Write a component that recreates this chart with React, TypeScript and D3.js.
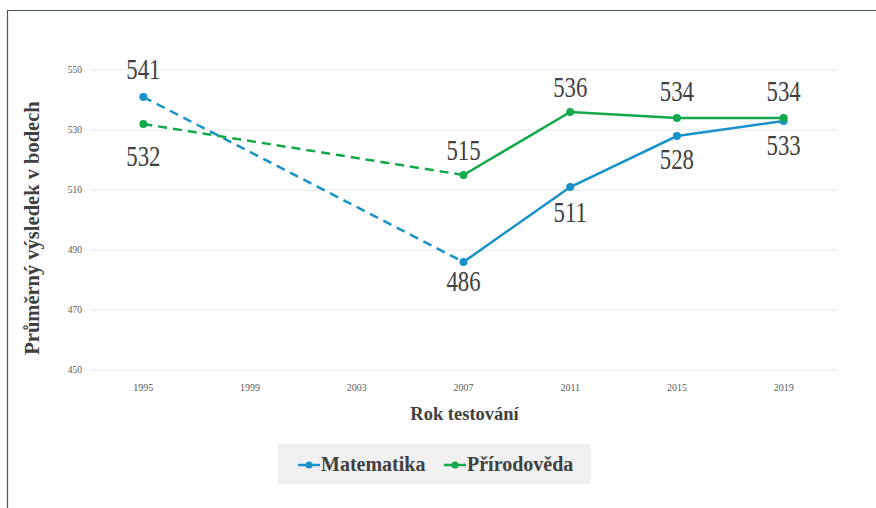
import React from "react";
import * as d3 from "d3";

const years = ["1995", "1999", "2003", "2007", "2011", "2015", "2019"];
const matematika: (number | null)[] = [541, null, null, 486, 511, 528, 533];
const prirodoveda: (number | null)[] = [532, null, null, 515, 536, 534, 534];
const yTicks = [450, 470, 490, 510, 530, 550];
const mathLabelDy = [-18, 0, 0, 29, 35, 33, 34];
const sciLabelDy = [42, 0, 0, -15, -15, -17, -17];

const W = 876;
const H = 508;
const left = 90;
const right = 837;
const top = 70;
const bottom = 370;

const BLUE = "#1892C8";
const GREEN = "#12A84C";
const TEXT = "#404040";
const SERIF = "Liberation Serif";

export default function App() {
  const x = d3.scaleBand<string>().domain(years).range([left, right]);
  const cx = (c: string) => (x(c) as number) + x.bandwidth() / 2;
  const y = d3.scaleLinear().domain([450, 550]).range([bottom, top]);

  const series = [
    { name: "Matematika", values: matematika, color: BLUE, dy: mathLabelDy },
    { name: "Přírodověda", values: prirodoveda, color: GREEN, dy: sciLabelDy },
  ];

  const solid = d3
    .line<number | null>()
    .defined((d, i) => d !== null && i >= 3)
    .x((_, i) => cx(years[i]))
    .y((d) => y(d as number));

  return (
    <svg width={W} height={H} style={{ position: "absolute", left: 0, top: 0 }}>
      <rect x={0} y={0} width={W} height={H} fill="#fff" />
      <line x1={7} y1={10.5} x2={W} y2={10.5} stroke="#44546A" strokeWidth={1.2} />
      <line x1={7.5} y1={10} x2={7.5} y2={H} stroke="#44546A" strokeWidth={1.2} />
      {yTicks.map((t) => (
        <g key={t}>
          <line x1={left} x2={right} y1={y(t)} y2={y(t)} stroke="#E4E7EC" strokeWidth={1} />
          <text x={82} y={y(t)} dy="0.35em" textAnchor="end" fontSize={9.5} fill="#595959" fontFamily={SERIF}>
            {t}
          </text>
        </g>
      ))}
      {years.map((yr) => (
        <text key={yr} x={cx(yr)} y={391} textAnchor="middle" fontSize={10} fill="#595959" fontFamily={SERIF}>
          {yr}
        </text>
      ))}
      <text
        transform={`translate(39,${(top + bottom) / 2 + 8}) rotate(-90)`}
        textAnchor="middle"
        fontSize={20.5}
        fontWeight="bold"
        fill={TEXT}
        fontFamily={SERIF}
      >
        Průměrný výsledek v bodech
      </text>
      <text x={(left + right) / 2 + 1} y={420} textAnchor="middle" fontSize={18.5} fontWeight="bold" fill={TEXT} fontFamily={SERIF}>
        Rok testování
      </text>
      {series.map((s) => {
        const v0 = s.values[0] as number;
        const v3 = s.values[3] as number;
        return (
          <g key={s.name}>
            <line
              x1={cx(years[0])}
              y1={y(v0)}
              x2={cx(years[3])}
              y2={y(v3)}
              stroke={s.color}
              strokeWidth={2.5}
              strokeDasharray="9,6"
            />
            <path d={solid(s.values) || ""} fill="none" stroke={s.color} strokeWidth={2.5} />
            {s.values.map((v, i) =>
              v === null ? null : (
                <g key={i}>
                  <circle cx={cx(years[i])} cy={y(v)} r={4} fill={s.color} />
                  <text
                    transform={`translate(${cx(years[i])},${y(v) + s.dy[i]}) scale(0.76,1)`}
                    textAnchor="middle"
                    fontSize={30}
                    fill={TEXT}
                    fontFamily={SERIF}
                  >
                    {v}
                  </text>
                </g>
              )
            )}
          </g>
        );
      })}
      <g>
        <rect x={278} y={444} width={313} height={40} fill="#F0F0F0" />
        <line x1={298} x2={320} y1={465} y2={465} stroke={BLUE} strokeWidth={2.5} />
        <circle cx={309} cy={465} r={3.5} fill={BLUE} />
        <text x={321} y={471} fontSize={20} fontWeight="bold" fill={TEXT} fontFamily={SERIF}>
          Matematika
        </text>
        <line x1={444} x2={466} y1={465} y2={465} stroke={GREEN} strokeWidth={2.5} />
        <circle cx={455} cy={465} r={3.5} fill={GREEN} />
        <text x={467} y={471} fontSize={20} fontWeight="bold" fill={TEXT} fontFamily={SERIF}>
          Přírodověda
        </text>
      </g>
    </svg>
  );
}
